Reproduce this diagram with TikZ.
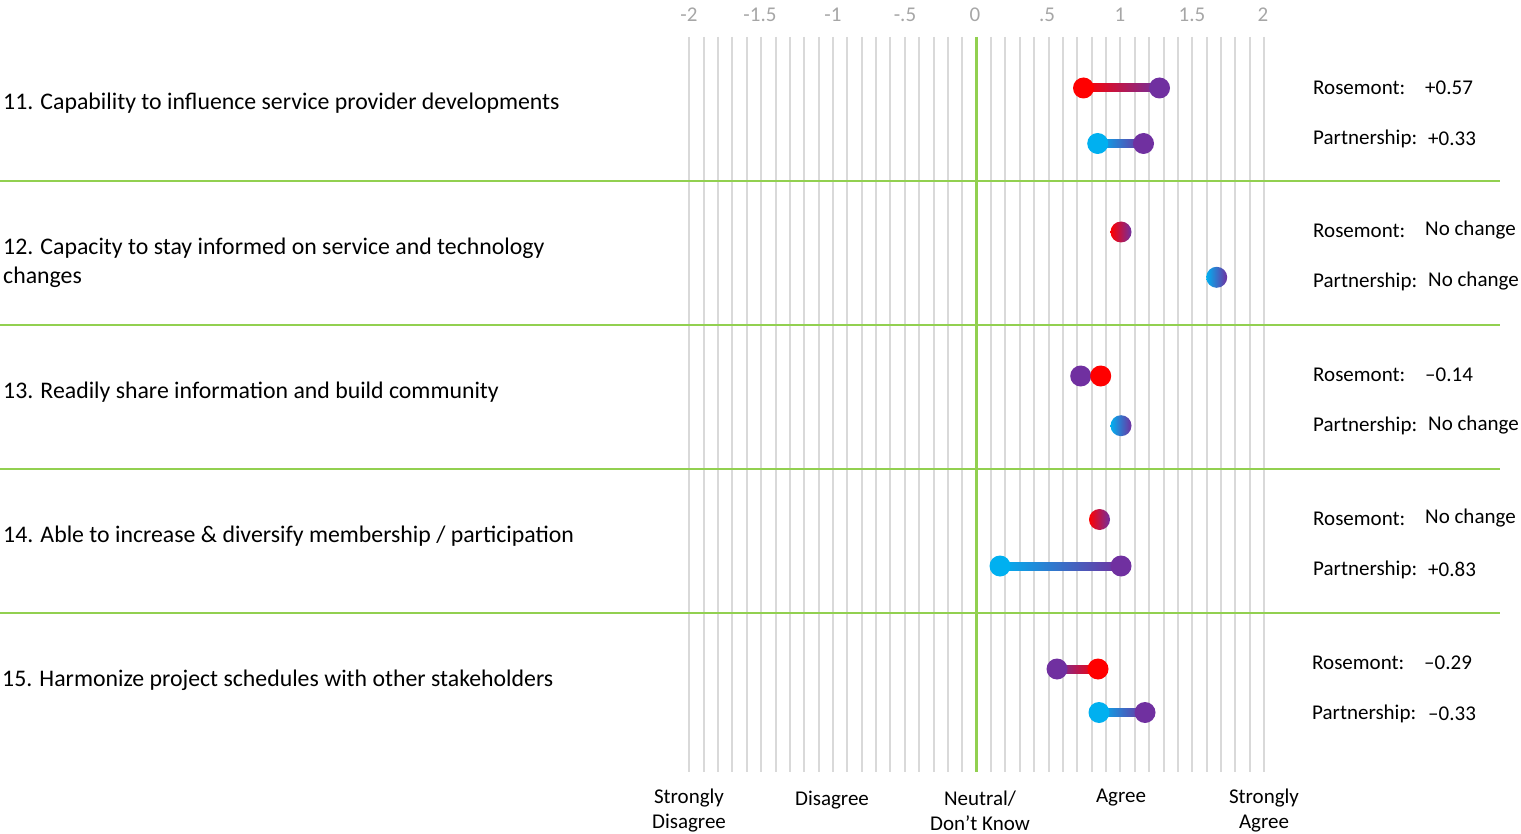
\documentclass[tikz,border=0pt]{standalone}
\usepackage{fontspec}
\setmainfont{Carlito}
\usetikzlibrary{calc}
\definecolor{cred}{HTML}{FF0000}
\definecolor{cpur}{HTML}{7030A0}
\definecolor{cblue}{HTML}{00B0F0}
\definecolor{cgreen}{HTML}{92D050}
\definecolor{cgrid}{HTML}{D9D9D9}
\definecolor{caxis}{HTML}{A6A6A6}
\tikzset{
  item/.style={anchor=west, inner sep=0pt, align=left, yshift=-2pt, font=\fontsize{23.8}{29}\selectfont},
  axlab/.style={inner sep=0pt, text=caxis, yshift=-1pt, font=\fontsize{21}{24}\selectfont},
  scale lab/.style={inner sep=0pt, align=center, yshift=-0.5pt, font=\fontsize{21}{25}\selectfont},
  res/.style={anchor=west, inner sep=0pt, yshift=-1.5pt, font=\fontsize{21}{24}\selectfont},
  dot/.style={circle, inner sep=0pt, minimum size=21pt},
  reddot/.style={dot, fill=cred},
  purdot/.style={dot, fill=cpur},
  bluedot/.style={dot, fill=cblue},
  rpdot/.style={dot, left color=cred, right color=cpur},
  bpdot/.style={dot, left color=cblue, right color=cpur},
  gridline/.style={cgrid, line width=2pt},
  sepline/.style={cgreen, line width=2pt},
}
\begin{document}
\begin{tikzpicture}[x=1pt,y=-1pt]
\useasboundingbox (0,0) rectangle (1521,834);
% grid
\foreach \i in {0,...,40} {
  \draw[gridline] ({689.3+\i*14.37},37) -- ({689.3+\i*14.37},772);
}
\draw[cgreen, line width=3pt] (976.7,37) -- (976.7,772);
% separators
\foreach \y in {181,325,469,613} {
  \draw[sepline] (0,\y) -- (1500,\y);
}
% axis labels
\node[axlab] (a1) at (689,14) {-2};
\node[axlab] (a2) at (760,14) {-1.5};
\node[axlab] (a3) at (833,14) {-1};
\node[axlab] (a4) at (905,14) {-.5};
\node[axlab] (a5) at (975,14) {0};
\node[axlab] (a6) at (1047,14) {.5};
\node[axlab] (a7) at (1120,14) {1};
\node[axlab] (a8) at (1192,14) {1.5};
\node[axlab] (a9) at (1263,14) {2};
% bottom scale labels
\node[scale lab] (s1) at (689,810.5) {Strongly\\Disagree};
\node[scale lab] (s2) at (832,799.5) {Disagree};
\node[scale lab] (s3) at (980,810.5) {Neutral/\\Don’t Know};
\node[scale lab] (s4) at (1121,797.5) {Agree};
\node[scale lab] (s5) at (1264,810.5) {Strongly\\Agree};
% item labels
\node[item] (q11) at (3,101) {11. Capability to influence service provider developments};
\node[item] (q12) at (3,260.5) {12. Capacity to stay informed on service and technology\\changes};
\node[item] (q13) at (3,390) {13. Readily share information and build community};
\node[item] (q14) at (3,534) {14. Able to increase \& diversify membership / participation};
\node[item] (q15) at (2,678) {15. Harmonize project schedules with other stakeholders};
% result labels
\node[res] (r11) at (1313,86) {Rosemont:};
\node[res] (v11) at (1425,86) {+0.57};
\node[res] (p11) at (1313,137) {Partnership:};
\node[res] (w11) at (1428,137) {+0.33};
\node[res] (r12) at (1313,229) {Rosemont:};
\node[res] (v12) at (1425,229) {No change};
\node[res] (p12) at (1313,280) {Partnership:};
\node[res] (w12) at (1428,280) {No change};
\node[res] (r13) at (1313,373) {Rosemont:};
\node[res] (v13) at (1425,373) {–0.14};
\node[res] (p13) at (1313,424) {Partnership:};
\node[res] (w13) at (1428,424) {No change};
\node[res] (r14) at (1313,517) {Rosemont:};
\node[res] (v14) at (1425,517) {No change};
\node[res] (p14) at (1313,568) {Partnership:};
\node[res] (w14) at (1428,568) {+0.83};
\node[res] (r15) at (1312,661) {Rosemont:};
\node[res] (v15) at (1424,661) {–0.29};
\node[res] (p15) at (1312,712) {Partnership:};
\node[res] (w15) at (1428,712) {–0.33};
% dot positions
\coordinate (d11a) at (1083.5,88);
\coordinate (d11b) at (1159.5,88);
\coordinate (e11a) at (1097.7,143.5);
\coordinate (e11b) at (1143.5,143.5);
\coordinate (d15a) at (1057,669);
\coordinate (d15b) at (1098,669);
\coordinate (e15a) at (1099,712.5);
\coordinate (e15b) at (1145,712.5);
\coordinate (e14a) at (1000,566);
\coordinate (e14b) at (1121,566);
% connectors
\shade[left color=cred, right color=cpur] ($(d11a)+(0,-4)$) rectangle ($(d11b)+(0,4)$);
\shade[left color=cblue, right color=cpur] ($(e11a)+(0,-4)$) rectangle ($(e11b)+(0,4)$);
\shade[left color=cpur, right color=cred] ($(d15a)+(0,-4)$) rectangle ($(d15b)+(0,4)$);
\shade[left color=cblue, right color=cpur] ($(e15a)+(0,-4)$) rectangle ($(e15b)+(0,4)$);
\shade[left color=cblue, right color=cpur] ($(e14a)+(0,-4)$) rectangle ($(e14b)+(0,4)$);
% dots
\node[reddot] (n11a) at (d11a) {};
\node[purdot] (n11b) at (d11b) {};
\node[bluedot] (m11a) at (e11a) {};
\node[purdot] (m11b) at (e11b) {};
\node[rpdot] (n12) at (1121,232) {};
\node[bpdot] (m12) at (1216.7,277.3) {};
\node[purdot] (n13a) at (1080.7,376) {};
\node[reddot] (n13b) at (1100.7,376) {};
\node[bpdot] (m13) at (1121,425.7) {};
\node[rpdot] (n14) at (1099.5,519.5) {};
\node[bluedot] (m14a) at (e14a) {};
\node[purdot] (m14b) at (e14b) {};
\node[purdot] (n15a) at (d15a) {};
\node[reddot] (n15b) at (d15b) {};
\node[bluedot] (m15a) at (e15a) {};
\node[purdot] (m15b) at (e15b) {};
\end{tikzpicture}
\end{document}
